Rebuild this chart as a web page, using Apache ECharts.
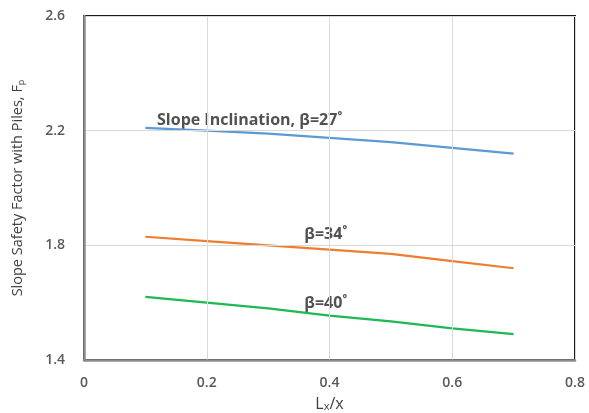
<!DOCTYPE html>
<html>
<head>
<meta charset="utf-8">
<script src="https://cdn.jsdelivr.net/npm/echarts@6/dist/echarts.min.js"></script>
<style>
  html, body { margin: 0; padding: 0; background: #fff; }
  #chart { width: 589px; height: 413px; }
</style>
</head>
<body>
<div id="chart"></div>
<script>
// Pile length ratio Lx/x
const ratios = [0.1, 0.2, 0.3, 0.4, 0.5, 0.6, 0.7];
// Slope safety factor with piles for each slope inclination
const fp27 = [2.21, 2.20, 2.19, 2.175, 2.16, 2.14, 2.12];
const fp34 = [1.83, 1.815, 1.80, 1.785, 1.77, 1.745, 1.72];
const fp40 = [1.62, 1.60, 1.58, 1.555, 1.535, 1.51, 1.49];
// Curve annotations: text and anchor in data units [x, y]
const curveLabels = [
  { text: 'Slope Inclination, \u03b2=27\u02da', at: [0.119, 2.237] },
  { text: '\u03b2=34\u02da', at: [0.359, 1.838] },
  { text: '\u03b2=40\u02da', at: [0.359, 1.598] }
];

const pairs = (ys) => ratios.map((x, i) => [x, ys[i]]);
const axisText = { color: '#595959', fontFamily: 'Open Sans', fontSize: 14, fontWeight: 600 };

const chart = echarts.init(document.getElementById('chart'));
chart.setOption({
  animation: false,
  grid: {
    left: 84, right: 14, top: 16, bottom: 53,
    outerBoundsMode: 'none',
    show: true, borderColor: '#1a1a1a', borderWidth: 2
  },
  xAxis: {
    type: 'value', min: 0, max: 0.8, interval: 0.2,
    name: '{n|L}{s|x}{n|/x}', nameLocation: 'middle', nameGap: 34,
    nameTextStyle: {
      rich: {
        n: { color: '#404040', fontFamily: 'Open Sans', fontSize: 16, lineHeight: 20 },
        s: { color: '#404040', fontFamily: 'Open Sans', fontSize: 11, lineHeight: 20, padding: [6, 0, 0, 0] }
      }
    },
    axisLine: { show: true, lineStyle: { color: '#8c8c8c', width: 2.5 } },
    axisTick: { show: false },
    axisLabel: Object.assign({ margin: 16, formatter: (v) => String(+v.toFixed(1)) }, axisText),
    splitLine: { show: true, lineStyle: { color: '#d9d9d9', width: 1 } },
    z: 5
  },
  yAxis: {
    type: 'value', min: 1.4, max: 2.6, interval: 0.4,
    name: '{n|Slope Safety Factor with Piles, F}{s|p}', nameLocation: 'middle', nameGap: 58,
    nameTextStyle: {
      rich: {
        n: { color: '#404040', fontFamily: 'Open Sans', fontSize: 14.5 },
        s: { color: '#404040', fontFamily: 'Open Sans', fontSize: 9, padding: [7, 0, 0, 0] }
      }
    },
    axisLine: { show: true, lineStyle: { color: '#8c8c8c', width: 2.5 } },
    axisTick: { show: false },
    axisLabel: Object.assign({ margin: 19, formatter: (v) => v.toFixed(1) }, axisText),
    splitLine: { show: true, lineStyle: { color: '#d9d9d9', width: 1 } },
    z: 5
  },
  series: [
    { name: '27', type: 'line', data: pairs(fp27), showSymbol: false, lineStyle: { color: '#5b9bd5', width: 2.2 } },
    { name: '34', type: 'line', data: pairs(fp34), showSymbol: false, lineStyle: { color: '#ed7d31', width: 2.2 } },
    { name: '40', type: 'line', data: pairs(fp40), showSymbol: false, lineStyle: { color: '#1db954', width: 2.2 } },
    {
      type: 'scatter', symbolSize: 0, silent: true,
      data: curveLabels.map(l => ({ value: l.at, label: { formatter: l.text } })),
      label: {
        show: true, position: 'right', distance: 0,
        color: '#262626', fontFamily: 'Open Sans', fontSize: 16, fontWeight: 'bold'
      }
    }
  ]
});
</script>
</body>
</html>
